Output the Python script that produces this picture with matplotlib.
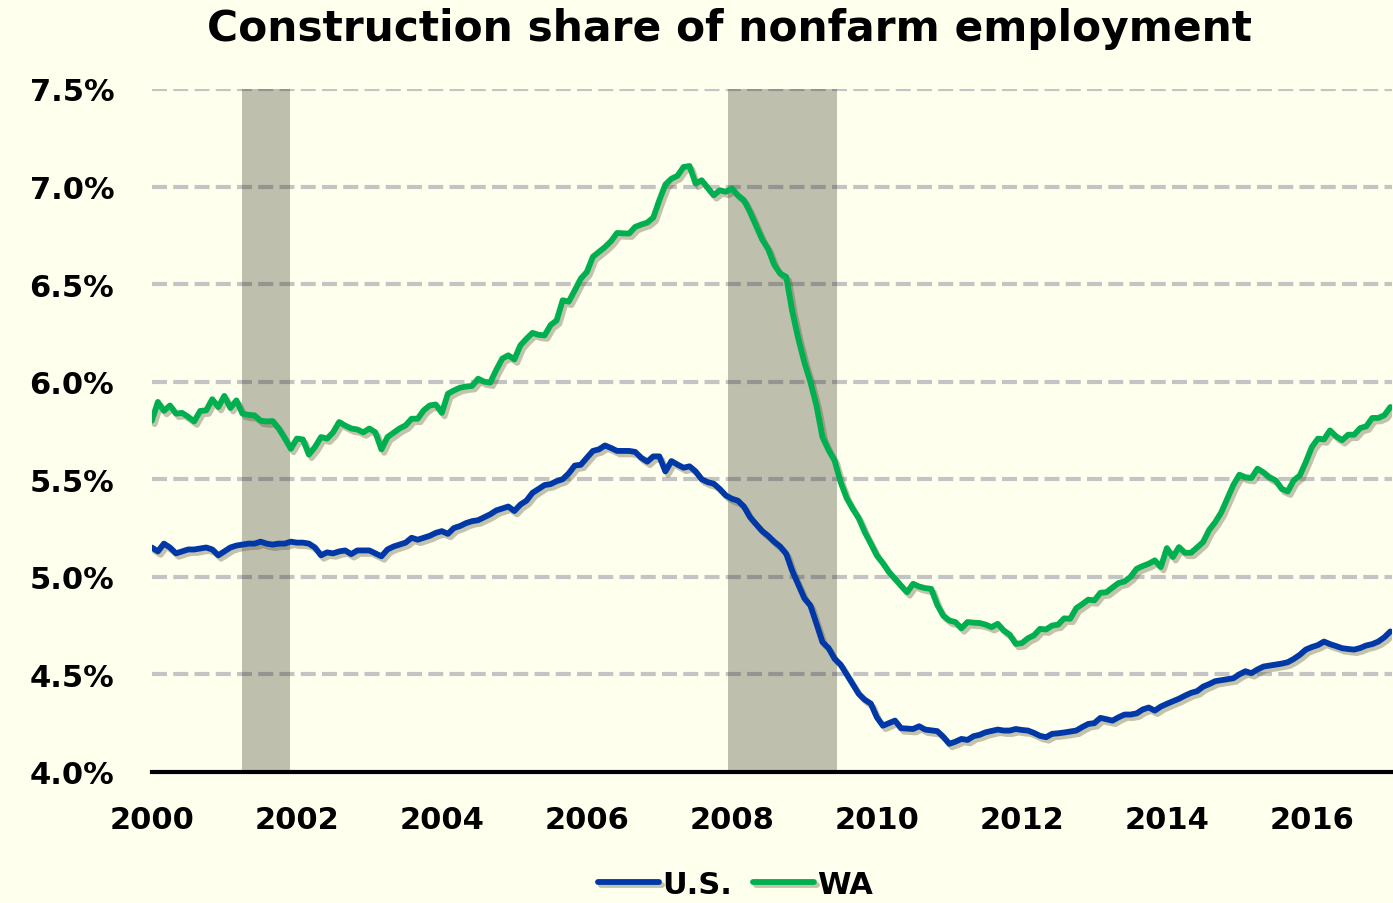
import numpy as np
import matplotlib
matplotlib.use("Agg")
import matplotlib.pyplot as plt
import matplotlib.patheffects as pe

# monthly shares (%), Jan 2000 .. Feb 2017
us_share = [
    5.15, 5.13, 5.17, 5.15, 5.12, 5.13, 5.14, 5.14, 5.145, 5.15, 5.14, 5.11,      # 2000
    5.13, 5.15, 5.16, 5.165, 5.17, 5.17, 5.18, 5.17, 5.165, 5.17, 5.17, 5.18,     # 2001
    5.175, 5.175, 5.17, 5.15, 5.11, 5.125, 5.12, 5.13, 5.135, 5.116, 5.135, 5.135,  # 2002
    5.135, 5.12, 5.105, 5.14, 5.155, 5.165, 5.175, 5.20, 5.19, 5.20, 5.21, 5.225,   # 2003
    5.234, 5.22, 5.25, 5.26, 5.275, 5.285, 5.29, 5.305, 5.32, 5.34, 5.35, 5.36,     # 2004
    5.337, 5.37, 5.39, 5.43, 5.45, 5.47, 5.475, 5.49, 5.50, 5.53, 5.57, 5.574,      # 2005
    5.61, 5.645, 5.653, 5.673, 5.66, 5.645, 5.645, 5.645, 5.64, 5.61, 5.59, 5.617,  # 2006
    5.617, 5.54, 5.593, 5.575, 5.559, 5.566, 5.54, 5.50, 5.485, 5.477, 5.45, 5.417, # 2007
    5.40, 5.39, 5.36, 5.306, 5.27, 5.235, 5.21, 5.18, 5.155, 5.118, 5.03, 4.96,     # 2008
    4.89, 4.853, 4.76, 4.665, 4.635, 4.58, 4.55, 4.50, 4.45, 4.40, 4.37, 4.35,      # 2009
    4.28, 4.237, 4.25, 4.263, 4.224, 4.222, 4.22, 4.234, 4.217, 4.213, 4.209, 4.18, # 2010
    4.144, 4.155, 4.169, 4.164, 4.183, 4.19, 4.203, 4.21, 4.217, 4.212, 4.212, 4.22,  # 2011
    4.215, 4.212, 4.20, 4.185, 4.178, 4.195, 4.198, 4.202, 4.207, 4.212, 4.23, 4.246, # 2012
    4.25, 4.277, 4.27, 4.263, 4.28, 4.294, 4.294, 4.30, 4.32, 4.33, 4.314, 4.335,   # 2013
    4.349, 4.362, 4.375, 4.391, 4.405, 4.414, 4.437, 4.45, 4.465, 4.47, 4.475, 4.48,  # 2014
    4.50, 4.516, 4.506, 4.525, 4.54, 4.545, 4.55, 4.555, 4.562, 4.579, 4.60, 4.627,   # 2015
    4.64, 4.65, 4.668, 4.655, 4.645, 4.634, 4.63, 4.627, 4.635, 4.648, 4.655, 4.668,  # 2016
    4.69, 4.72,                                                                     # 2017
]

wa_share = [
    5.80, 5.896, 5.85, 5.878, 5.836, 5.84, 5.82, 5.796, 5.85, 5.853, 5.91, 5.87,    # 2000
    5.927, 5.865, 5.904, 5.836, 5.83, 5.827, 5.80, 5.796, 5.798, 5.76, 5.71, 5.656, # 2001
    5.708, 5.704, 5.626, 5.665, 5.716, 5.708, 5.74, 5.793, 5.775, 5.76, 5.755, 5.74,  # 2002
    5.76, 5.74, 5.653, 5.716, 5.738, 5.76, 5.776, 5.81, 5.81, 5.853, 5.878, 5.883,  # 2003
    5.84, 5.938, 5.955, 5.969, 5.975, 5.978, 6.015, 6.00, 5.995, 6.06, 6.118, 6.135,  # 2004
    6.114, 6.186, 6.22, 6.25, 6.24, 6.237, 6.29, 6.314, 6.417, 6.41, 6.468, 6.528,  # 2005
    6.562, 6.64, 6.665, 6.69, 6.72, 6.762, 6.76, 6.759, 6.793, 6.805, 6.815, 6.841, # 2006
    6.93, 7.01, 7.04, 7.055, 7.10, 7.105, 7.015, 7.032, 6.993, 6.955, 6.981, 6.973, # 2007
    6.99, 6.955, 6.93, 6.87, 6.80, 6.73, 6.68, 6.60, 6.554, 6.537, 6.36, 6.22,      # 2008
    6.10, 5.998, 5.878, 5.716, 5.65, 5.596, 5.486, 5.404, 5.349, 5.30, 5.229, 5.17, # 2009
    5.109, 5.07, 5.024, 4.99, 4.955, 4.921, 4.964, 4.95, 4.942, 4.938, 4.856, 4.80, # 2010
    4.776, 4.768, 4.736, 4.768, 4.765, 4.763, 4.755, 4.742, 4.759, 4.725, 4.703, 4.656,  # 2011
    4.66, 4.685, 4.70, 4.733, 4.73, 4.75, 4.755, 4.787, 4.785, 4.839, 4.86, 4.883,  # 2012
    4.879, 4.918, 4.921, 4.945, 4.968, 4.976, 5.00, 5.041, 5.055, 5.067, 5.084, 5.05,  # 2013
    5.147, 5.101, 5.152, 5.123, 5.123, 5.15, 5.178, 5.24, 5.28, 5.33, 5.40, 5.47,   # 2014
    5.523, 5.51, 5.506, 5.554, 5.535, 5.51, 5.494, 5.451, 5.437, 5.494, 5.519, 5.588,  # 2015
    5.665, 5.708, 5.704, 5.75, 5.72, 5.70, 5.728, 5.728, 5.762, 5.771, 5.814, 5.814,  # 2016
    5.828, 5.87,                                                                    # 2017
]

recessions = [(2001.25, 2001.9), (2007.95, 2009.45)]
y_ticks = [4.0, 4.5, 5.0, 5.5, 6.0, 6.5, 7.0, 7.5]
x_ticks = list(range(2000, 2017, 2))

months = 2000 + np.arange(len(us_share)) / 12.0

bg = "#FFFFED"
plt.rcParams["font.family"] = "DejaVu Sans"
plt.rcParams["font.weight"] = "bold"

fig = plt.figure(figsize=(13.93, 9.04), dpi=100, facecolor=bg)
ax = fig.add_axes([0.109, 0.145, 0.890, 0.7555])
ax.set_facecolor(bg)

for y in y_ticks[1:]:
    ax.axhline(y, color="#C4C4C4", lw=3, ls=(0, (3.6, 1.5)), zorder=1)

for x0, x1 in recessions:
    ax.axvspan(x0, x1, color="#1A1A0D", alpha=0.28, lw=0, zorder=2)

shadow = [pe.SimpleLineShadow(offset=(2, -2.5), shadow_color="#555533", alpha=0.35),
          pe.Normal()]
ax.plot(months, us_share, color="#0038A8", lw=4.2, zorder=4, label="U.S.",
        solid_capstyle="round", path_effects=shadow)
ax.plot(months, wa_share, color="#00B050", lw=4.2, zorder=4, label="WA",
        solid_capstyle="round", path_effects=shadow)

ax.set_xlim(2000, 2017.1)
ax.set_ylim(4.0, 7.5)
ax.set_yticks(y_ticks)
ax.set_yticklabels(["%.1f%%" % v for v in y_ticks])
ax.set_xticks(x_ticks)
ax.set_xticklabels([str(v) for v in x_ticks])
ax.tick_params(axis="y", length=0, pad=27, labelsize=22)
ax.tick_params(axis="x", length=0, pad=24, labelsize=22)

for side in ["top", "right", "left"]:
    ax.spines[side].set_visible(False)
ax.spines["bottom"].set_color("black")
ax.spines["bottom"].set_linewidth(3)
ax.spines["bottom"].set_zorder(5)

fig.text(0.524, 0.968, "Construction share of nonfarm employment",
         ha="center", va="center", fontsize=30.5, fontweight="bold")

fig.legend(loc="center", bbox_to_anchor=(0.528, 0.021), ncol=2, frameon=False,
           fontsize=22, handlelength=2.0, handletextpad=0.1, columnspacing=0.7)

fig.savefig("out.png", dpi=100, facecolor=bg)
